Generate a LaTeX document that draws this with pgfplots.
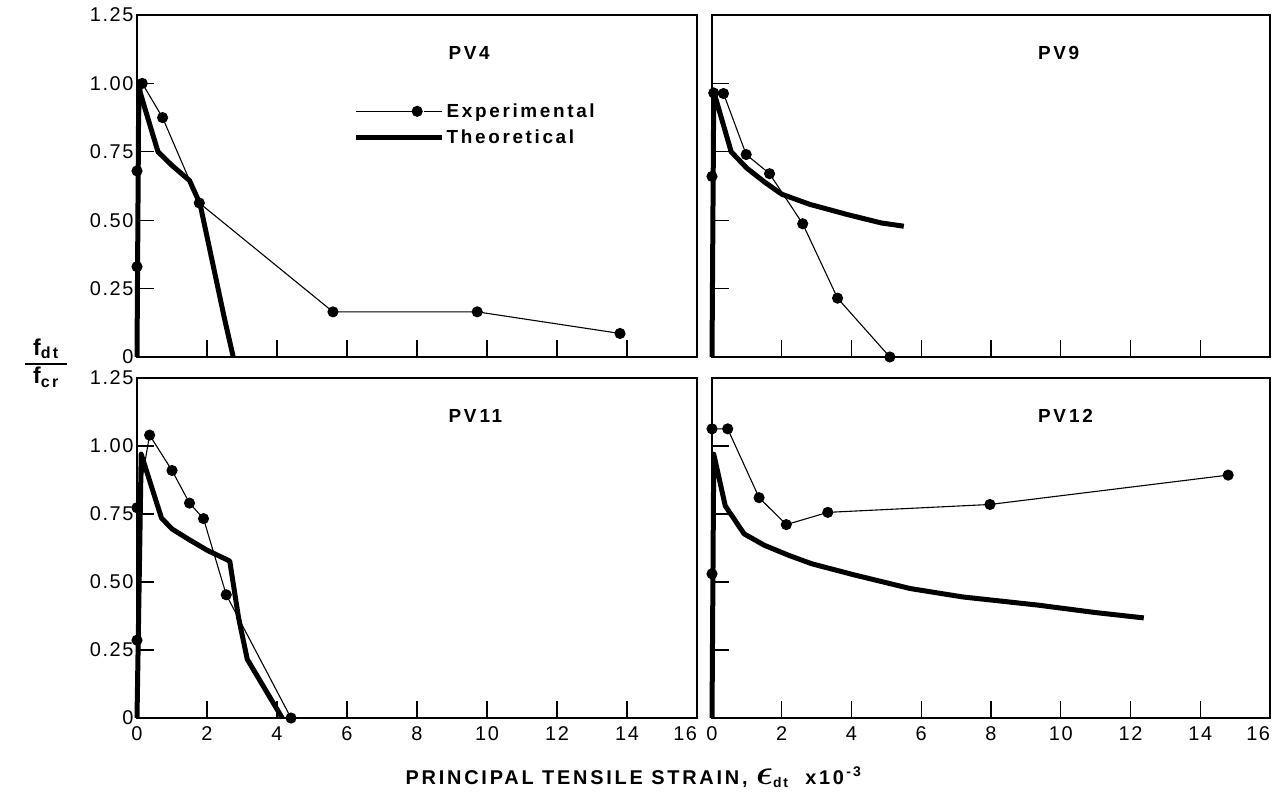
\documentclass[border=0pt]{standalone}
\usepackage{pgfplots}
\pgfplotsset{compat=1.18}
\usepackage{amsmath}
\usepackage{fontspec}
\setmainfont{Liberation Sans}[LetterSpace=8]
\newfontfamily\titlefont{Liberation Sans}[LetterSpace=14]

\pgfplotstableread{
x y
0 0.33
0 0.68
0.15 1.00
0.73 0.875
1.78 0.563
5.6 0.165
9.72 0.165
13.8 0.086
}\pvfourexp
\pgfplotstableread{
x y
0 0
0.05 0.985
0.34 0.86
0.6 0.75
1.0 0.70
1.5 0.645
1.8 0.56
2.2 0.32
2.5 0.14
2.75 0
}\pvfourtheo
\pgfplotstableread{
x y
0 0.66
0.05 0.965
0.33 0.963
0.98 0.74
1.65 0.67
2.6 0.487
3.6 0.215
5.1 0
}\pvnineexp
\pgfplotstableread{
x y
0 0
0.05 0.97
0.55 0.75
1.0 0.69
1.5 0.64
2.0 0.595
2.8 0.558
3.9 0.52
4.85 0.49
5.5 0.478
}\pvninetheo
\pgfplotstableread{
x y
0 0.286
0 0.773
0.36 1.04
1.0 0.91
1.5 0.79
1.9 0.733
2.55 0.453
4.4 0
}\pvelevenexp
\pgfplotstableread{
x y
0 0
0.12 0.97
0.7 0.735
1.0 0.695
1.5 0.655
2.0 0.617
2.65 0.577
2.9 0.37
3.15 0.216
4.15 0
}\pveleventheo
\pgfplotstableread{
x y
0 0.53
0 1.063
0.45 1.063
1.35 0.81
2.13 0.711
3.32 0.756
7.97 0.785
14.8 0.893
}\pvtwelveexp
\pgfplotstableread{
x y
0 0
0.05 0.97
0.38 0.78
0.92 0.677
1.5 0.635
2.2 0.598
2.86 0.567
4.05 0.527
5.68 0.476
7.19 0.445
9.35 0.415
10.97 0.388
12.38 0.368
}\pvtwelvetheo

\pgfplotsset{
  panel/.style={
    scale only axis, width=560bp, height=342bp,
    xmin=0, xmax=16, ymin=0, ymax=1.25,
    axis line style={line width=1.8bp},
    every tick/.style={line width=1.1bp, black},
    major tick length=17bp,
    xtick={0,2,...,16}, ytick={0,0.25,...,1.25},
    tick pos=left, tick align=inside,
    xticklabels={}, yticklabels={},
    /pgf/number format/assume math mode=true,
    tick label style={font=\fontsize{20}{20}\selectfont},
    xticklabel style={yshift=-5bp},
    clip=false,
  },
  leftp/.style={yticklabels={0,0.25,0.50,0.75,1.00,1.25}},
  botp/.style={xticklabels={0,2,4,6,8,10,12,14,\makebox[0pt][r]{16}}},
  exp/.style={black, line width=1.1bp, mark=*, mark size=5bp, mark options={solid}},
  theo/.style={black, line width=5bp, line join=round, no markers},
}
\newcommand{\ptitle}{\titlefont\bfseries\fontsize{19}{19}\selectfont}

\begin{document}
\begin{tikzpicture}
\path[use as bounding box] (0,0) rectangle (1277bp,796bp);

% top-left PV4
\begin{axis}[panel, leftp, at={(137bp,439bp)}, anchor=south west,
  legend style={at={(axis cs:6.1,0.85)}, anchor=west, draw=none, fill=none,
    font=\ptitle, row sep=7bp},
  legend cell align=left]
\addplot[exp, legend image code/.code={
  \draw[line width=1.1bp] (0bp,0bp) -- (56bp,0bp);
  \fill (61bp,0bp) circle (5bp);
  \draw[line width=1.1bp] (68bp,0bp) -- (86bp,0bp);}] table {\pvfourexp};
\addlegendentry{Experimental}
\addplot[theo, legend image code/.code={
  \draw[line width=5bp] (0bp,0bp) -- (86bp,0bp);}] table {\pvfourtheo};
\addlegendentry{Theoretical}
\node[anchor=west, font=\ptitle] at (axis cs:8.8,1.11) {PV4};
\end{axis}

% top-right PV9
\begin{axis}[panel, at={(712bp,439bp)}, anchor=south west, width=558bp]
\addplot[exp] table {\pvnineexp};
\addplot[theo] table {\pvninetheo};
\node[anchor=west, font=\ptitle] at (axis cs:9.25,1.11) {PV9};
\end{axis}

% bottom-left PV11
\begin{axis}[panel, leftp, botp, at={(137bp,78bp)}, anchor=south west, height=340bp]
\addplot[exp] table {\pvelevenexp};
\addplot[theo] table {\pveleventheo};
\node[anchor=west, font=\ptitle] at (axis cs:8.8,1.11) {PV\,11};
\end{axis}

% bottom-right PV12
\begin{axis}[panel, botp, at={(712bp,78bp)}, anchor=south west, width=558bp, height=340bp]
\addplot[exp] table {\pvtwelveexp};
\addplot[theo] table {\pvtwelvetheo};
\node[anchor=west, font=\ptitle] at (axis cs:9.25,1.11) {PV\,12};
\end{axis}

% axis titles
\node[anchor=west, font=\titlefont\bfseries\fontsize{20}{20}\selectfont] at (402bp,19bp)
  {PRINCIPAL TENSILE STRAIN, \scalebox{1.7}{$\boldsymbol{\epsilon}$}$_{\text{\bfseries dt}}$\ \ x10\textsuperscript{\bfseries\,-3}};
\node[font=\titlefont\bfseries\fontsize{23}{23}\selectfont] at (46bp,432bp)
  {\setlength{\arrayrulewidth}{1.8bp}\renewcommand{\arraystretch}{1.15}%
   \begin{tabular}{@{\hspace{8bp}}c@{\hspace{8bp}}}f$_{\text{\bfseries dt}}$\\\hline f$_{\text{\bfseries cr}}$\end{tabular}};
\end{tikzpicture}
\end{document}
